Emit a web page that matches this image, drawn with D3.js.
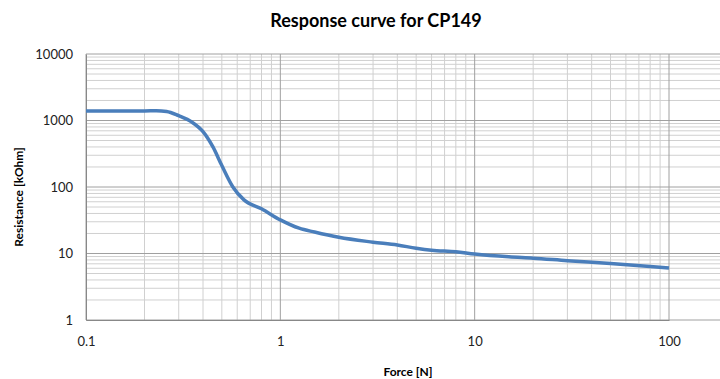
<!DOCTYPE html>
<html>
<head>
<meta charset="utf-8">
<script src="https://cdn.jsdelivr.net/npm/d3@7"></script>
<style>
  body { margin: 0; background: #fff; }
  text { font-family: Lato, "Open Sans", sans-serif; }
</style>
</head>
<body>
<div id="chart"></div>
<script>
// curve
const force = [0.1, 0.15, 0.2, 0.23, 0.26, 0.3, 0.35, 0.4, 0.45, 0.5, 0.57, 0.65, 0.8, 1, 1.25, 1.5, 2, 3, 4, 5, 6, 8, 10, 15, 20, 30, 50, 80, 100];
const resistance = [1390, 1390, 1390, 1405, 1370, 1180, 950, 680, 400, 210, 100, 64, 47, 32, 24, 21, 17.5, 14.8, 13.4, 12, 11.2, 10.6, 9.8, 8.9, 8.5, 7.8, 7.1, 6.4, 6.05];
const xTicks = [0.1, 1, 10, 100];
const yTicks = [1, 10, 100, 1000, 10000];

const ctx = { w: 720, h: 379, left: 86, right: 720, top: 54, bottom: 320 };

function createViz() {
  const svg = d3.select("#chart").append("svg")
    .attr("width", ctx.w).attr("height", ctx.h);

  const x = d3.scaleLog().domain([0.1, 100]).range([ctx.left, 669]);
  const y = d3.scaleLog().domain([1, 10000]).range([ctx.bottom, ctx.top]);

  // minor grid
  const minorX = [], minorY = [];
  for (let d = 0.1; d < 100; d *= 10)
    for (let k = 2; k <= 9; k++) minorX.push(d * k);
  for (let d = 1; d < 10000; d *= 10)
    for (let k = 2; k <= 9; k++) minorY.push(d * k);

  const grid = svg.append("g");
  grid.selectAll(".mx").data(minorX).enter().append("line")
    .attr("x1", d => x(d)).attr("x2", d => x(d))
    .attr("y1", ctx.top).attr("y2", ctx.bottom)
    .attr("stroke", "#d0d0d0").attr("stroke-width", 1);
  grid.selectAll(".my").data(minorY).enter().append("line")
    .attr("x1", ctx.left).attr("x2", ctx.right)
    .attr("y1", d => y(d)).attr("y2", d => y(d))
    .attr("stroke", "#d0d0d0").attr("stroke-width", 1);
  // major grid
  grid.selectAll(".Mx").data(xTicks).enter().append("line")
    .attr("x1", d => x(d)).attr("x2", d => x(d))
    .attr("y1", ctx.top).attr("y2", ctx.bottom)
    .attr("stroke", "#a0a0a0").attr("stroke-width", 1);
  grid.selectAll(".My").data(yTicks).enter().append("line")
    .attr("x1", ctx.left).attr("x2", ctx.right)
    .attr("y1", d => y(d)).attr("y2", d => y(d))
    .attr("stroke", "#a0a0a0").attr("stroke-width", 1);

  // axes
  const xAxis = svg.append("g")
    .attr("transform", "translate(0," + ctx.bottom + ")")
    .call(d3.axisBottom(x).tickValues(xTicks).tickFormat(d => String(d)).tickSize(0).tickPadding(17));
  xAxis.select(".domain").attr("stroke", "#888");
  xAxis.selectAll("text").style("font-size", "13px").attr("fill", "#222");

  const yAxis = svg.append("g")
    .attr("transform", "translate(" + ctx.left + ",0)")
    .call(d3.axisLeft(y).tickValues(yTicks).tickFormat(d => String(d)).tickSize(0).tickPadding(13));
  yAxis.select(".domain").attr("stroke", "#888");
  yAxis.selectAll("text").style("font-size", "13px").attr("fill", "#222");

  // curve
  const pts = force.map((f, i) => [x(f), y(resistance[i])]);
  svg.append("path")
    .attr("d", d3.line().curve(d3.curveMonotoneX)(pts))
    .attr("fill", "none")
    .attr("stroke", "#4a7ebb")
    .attr("stroke-width", 3.5)
    .attr("stroke-linejoin", "round");

  // titles
  svg.append("text").attr("x", 376).attr("y", 27)
    .attr("text-anchor", "middle").style("font-size", "18px").style("font-weight", "bold")
    .text("Response curve for CP149");
  svg.append("text").attr("x", 408).attr("y", 376)
    .attr("text-anchor", "middle").style("font-size", "12px").style("font-weight", "bold")
    .text("Force [N]");
  svg.append("text").attr("transform", "translate(23,197) rotate(-90)")
    .attr("text-anchor", "middle").style("font-size", "12px").style("font-weight", "bold")
    .text("Resistance [kOhm]");
}
createViz();
</script>
</body>
</html>
